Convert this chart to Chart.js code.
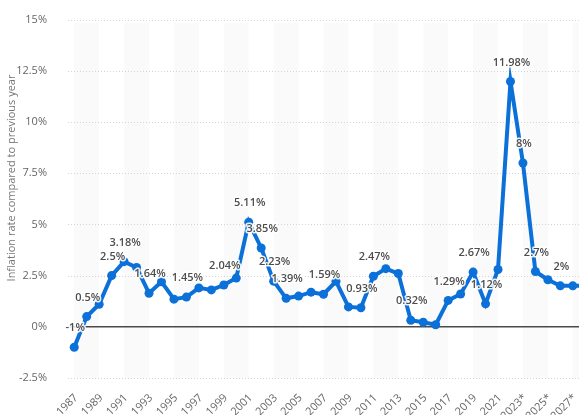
<!DOCTYPE html>
<html>
<head>
<meta charset="utf-8">
<script src="https://cdn.jsdelivr.net/npm/chart.js@4.4.1/dist/chart.umd.min.js"></script>
<style>
  html, body { margin: 0; padding: 0; background: #fff; overflow: hidden; width: 579px; height: 415px; }
  canvas { display: block; }
</style>
</head>
<body>
<canvas id="c" width="596" height="415"></canvas>
<script>
// ---- data ----
const years = ['1987','1988','1989','1990','1991','1992','1993','1994','1995','1996','1997','1998','1999','2000','2001','2002','2003','2004','2005','2006','2007','2008','2009','2010','2011','2012','2013','2014','2015','2016','2017','2018','2019','2020','2021','2022','2023*','2024*','2025*','2026*','2027*','2028*'];
const inflation = [-1, 0.5, 1.1, 2.5, 3.18, 2.9, 1.64, 2.2, 1.35, 1.45, 1.9, 1.8, 2.04, 2.38, 5.11, 3.85, 2.23, 1.39, 1.5, 1.69, 1.59, 2.22, 0.97, 0.93, 2.47, 2.84, 2.6, 0.32, 0.22, 0.1, 1.29, 1.6, 2.67, 1.12, 2.8, 11.98, 8, 2.7, 2.3, 2, 2, 2];
const labelledYears = ['1987','1988','1990','1991','1993','1996','1999','2001','2002','2003','2004','2007','2010','2011','2014','2017','2019','2020','2022','2023*','2024*','2026*'];
const yTicks = [-2.5, 0, 2.5, 5, 7.5, 10, 12.5, 15];
const yTitle = 'Inflation rate compared to previous year';

const BLUE = '#0b70d8';
const FONT = '"Open Sans", "DejaVu Sans", sans-serif';

const bgPlugin = {
  id: 'bg',
  beforeDatasetsDraw(chart) {
    const { ctx, chartArea, scales } = chart;
    const x = scales.x, y = scales.y;
    ctx.save();
    // bands
    ctx.fillStyle = '#fafafa';
    for (let i = 0; i < years.length; i += 4) {
      const x0 = x.getPixelForValue(i);
      const x1 = i + 2 < years.length ? x.getPixelForValue(i + 2) : chartArea.right;
      ctx.fillRect(x0, chartArea.top + 3, x1 - x0, chartArea.bottom - chartArea.top - 3);
    }
    // dotted grid
    ctx.strokeStyle = '#d4d4d4';
    ctx.lineWidth = 1;
    ctx.setLineDash([1, 2]);
    yTicks.forEach(v => {
      if (v === 0) return;
      const py = Math.round(y.getPixelForValue(v)) + 0.5;
      ctx.beginPath(); ctx.moveTo(chartArea.left, py); ctx.lineTo(chartArea.right, py); ctx.stroke();
    });
    ctx.setLineDash([]);
    // zero line
    const pz = y.getPixelForValue(0);
    ctx.strokeStyle = '#4a4a4a';
    ctx.lineWidth = 1.5;
    ctx.beginPath(); ctx.moveTo(chartArea.left, pz); ctx.lineTo(chartArea.right, pz); ctx.stroke();
    ctx.restore();
  },
  afterDatasetsDraw(chart) {
    const { ctx, scales } = chart;
    const meta = chart.getDatasetMeta(0);
    ctx.save();
    ctx.font = '600 11px ' + FONT;
    ctx.textAlign = 'center';
    ctx.textBaseline = 'middle';
    ctx.lineJoin = 'round';
    labelledYears.forEach(yr => {
      const i = years.indexOf(yr);
      if (i < 0) return;
      const p = meta.data[i];
      const txt = inflation[i] + '%';
      ctx.strokeStyle = 'rgba(255,255,255,0.9)';
      ctx.lineWidth = 3;
      ctx.strokeText(txt, p.x + 1, p.y - 19);
      ctx.fillStyle = '#4d4d4d';
      ctx.fillText(txt, p.x + 1, p.y - 19);
    });
    ctx.restore();

    // x tick labels (odd years), rotated 45 degrees
    ctx.save();
    ctx.font = '400 11px ' + FONT;
    ctx.fillStyle = '#666';
    ctx.textAlign = 'right';
    ctx.textBaseline = 'middle';
    for (let i = 0; i < years.length; i += 2) {
      const px = scales.x.getPixelForValue(i);
      ctx.save();
      ctx.translate(px + 2, 396);
      ctx.rotate(-Math.PI / 4);
      ctx.fillText(years[i], 0, 0);
      ctx.restore();
    }
    ctx.restore();

    // y axis title
    ctx.save();
    ctx.translate(12, 178);
    ctx.rotate(-Math.PI / 2);
    ctx.font = '400 11px ' + FONT;
    ctx.fillStyle = '#777';
    ctx.textAlign = 'center';
    ctx.textBaseline = 'middle';
    ctx.fillText(yTitle, 0, 0);
    ctx.restore();
  }
};

new Chart(document.getElementById('c'), {
  type: 'line',
  data: {
    labels: years,
    datasets: [{
      data: inflation,
      borderColor: BLUE,
      backgroundColor: BLUE,
      borderWidth: 4,
      pointRadius: 4.5,
      pointBorderWidth: 0,
      pointBackgroundColor: BLUE,
      tension: 0,
      clip: false
    }]
  },
  options: {
    responsive: false,
    animation: false,
    layout: { padding: { top: 15, right: 0, left: 0, bottom: 0 } },
    plugins: { legend: { display: false }, tooltip: { enabled: false } },
    scales: {
      x: {
        type: 'category',
        offset: true,
        grid: { display: false },
        border: { display: false },
        ticks: { display: false },
        afterFit(scale) { scale.height = 37; }
      },
      y: {
        min: -2.5,
        max: 15,
        afterBuildTicks(scale) { scale.ticks = yTicks.map(v => ({ value: v })); },
        grid: { display: false },
        border: { display: false },
        ticks: {
          padding: 13,
          color: '#666',
          font: { family: FONT, size: 11 },
          callback: v => v + '%'
        },
        afterFit(scale) { scale.width = 68; }
      }
    }
  },
  plugins: [bgPlugin]
});
</script>
</body>
</html>
